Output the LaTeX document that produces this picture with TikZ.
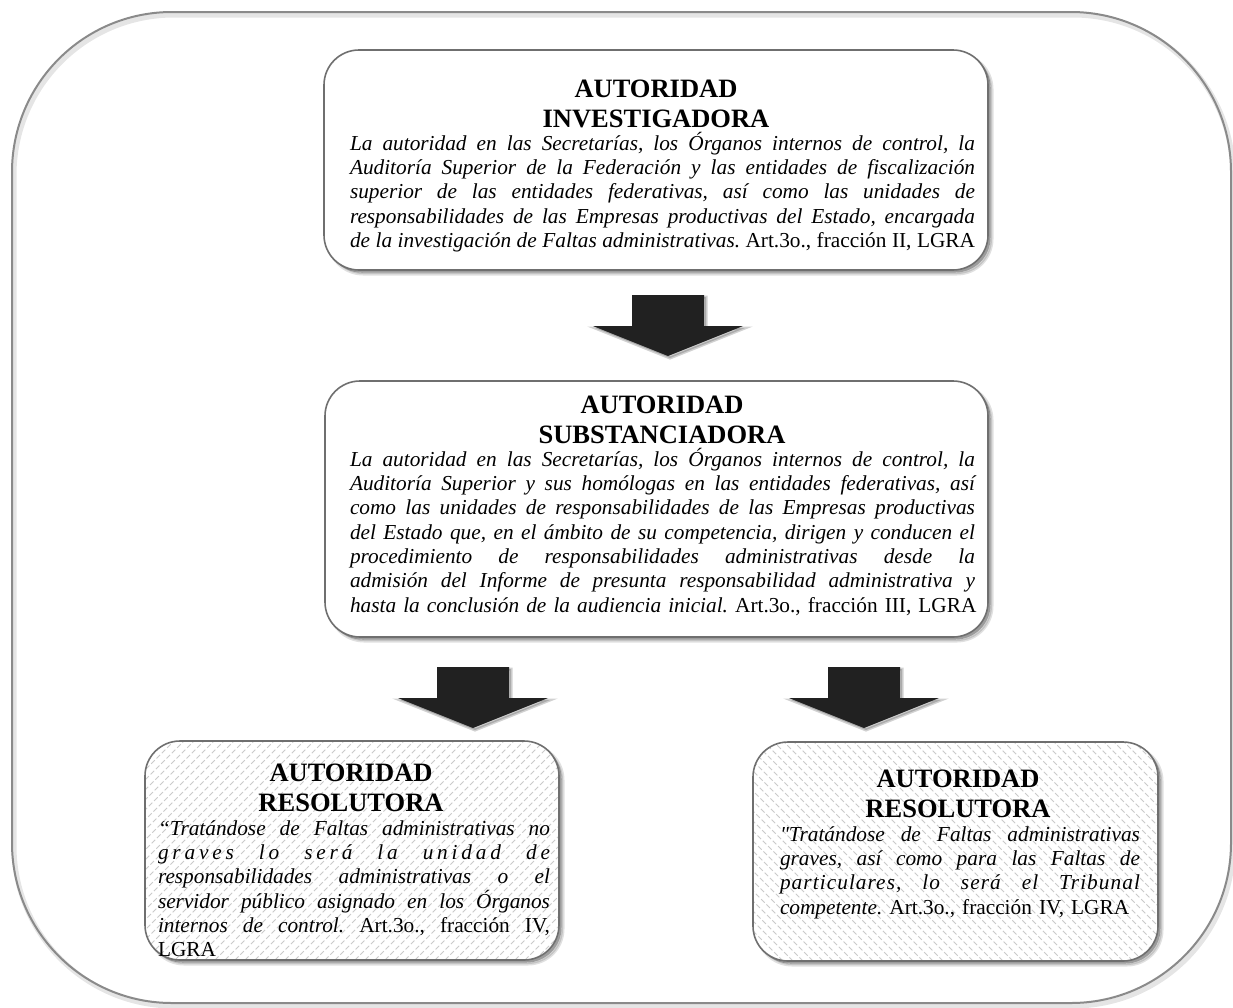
\documentclass[tikz,border=0pt]{standalone}
\usepackage{fontspec}
\setmainfont{Liberation Serif}
\usetikzlibrary{calc}
\setlength\parindent{0pt}
\frenchspacing
\definecolor{boxline}{HTML}{6F6F6F}
\definecolor{frameline}{HTML}{8A8A8A}
\definecolor{hatchc}{HTML}{CACACA}
\definecolor{arrowc}{HTML}{212121}
\newcommand\ttlfont{\fontsize{26.5}{30}\selectfont\bfseries}
\newcommand\bdyfont{\fontsize{21.3}{24.3}\selectfont\itshape}
\newcommand\jl[1]{\makebox[\hsize][s]{\spaceskip=0.25em plus 1fil minus 0.08em\relax #1}\\}
\newcommand\jlast[1]{\makebox[\hsize][s]{\spaceskip=0.25em plus 1fil minus 0.08em\relax #1}}
\newcommand\spaced[2]{{\addfontfeature{LetterSpace=#1}#2}}
\newcommand\up[1]{{\upshape #1}}
\newcommand\fstrut{\rule{0pt}{25pt}}
\newcommand\tstrut{\rule{0pt}{22pt}}
\newcommand\blockarr[1]{%
  \fill[blockarrow] ($(#1)+(-36,0)$) -- ($(#1)+(36,0)$) -- ($(#1)+(36,31)$) -- ($(#1)+(75,31)$)
    -- ($(#1)+(0,61)$) -- ($(#1)+(-75,31)$) -- ($(#1)+(-36,31)$) -- cycle;}
\tikzset{
  frame/.style={draw=frameline, line width=2pt, rounded corners=160pt,
    minimum width=1219pt, minimum height=991pt, inner sep=0pt,
    preaction={draw=black, opacity=0.10, line width=5pt, transform canvas={shift={(2pt,-3pt)}}}},
  box/.style={draw=boxline, line width=1.6pt, rounded corners=35pt, fill=white, inner sep=0pt,
    preaction={fill=black, draw=black, line width=3pt, opacity=0.12, transform canvas={shift={(4pt,-4pt)}}},
    preaction={fill=black, opacity=0.30, transform canvas={shift={(2.5pt,-2.5pt)}}}},
  hatchline/.style={draw=hatchc, line width=0.9pt, dash pattern=on 5pt off 2.5pt},
  hatchNE/.style={path picture={\foreach \k in {-260,-250,...,440}{
      \draw[hatchline] ($(path picture bounding box.south west)+(\k,0)$) -- ++(300,-300);}}},
  hatchNW/.style={path picture={\foreach \k in {0,10,...,720}{
      \draw[hatchline] ($(path picture bounding box.south west)+(\k,0)$) -- ++(-300,-300);}}},
  ttl/.style={anchor=north, inner sep=0pt, text width=#1, align=center, font=\ttlfont},
  body/.style={anchor=north, inner sep=0pt, text width=#1, font=\bdyfont},
  blockarrow/.style={fill=arrowc, draw=none,
    preaction={fill=black, draw=black, line width=3pt, opacity=0.18, transform canvas={shift={(2pt,-2pt)}}}},
}
\begin{document}
\begin{tikzpicture}[x=1pt,y=-1pt]
\fill[white] (0,0) rectangle (1233,1007);
\useasboundingbox (0,0) rectangle (1233,1007);

% outer frame
\node[frame] (frame) at (621.5,507.5) {};

% boxes
\node[box, minimum width=664pt, minimum height=220pt] (inv) at (656,160) {};
\node[box, minimum width=663pt, minimum height=256pt] (sub) at (656.5,509) {};
\node[box, hatchNE, minimum width=414pt, minimum height=219pt] (resL) at (352,850.5) {};
\node[box, hatchNW, minimum width=405pt, minimum height=219pt] (resR) at (955.5,851.5) {};

% arrows
\coordinate (a1) at (668,295);
\coordinate (a2) at (473,667);
\coordinate (a3) at (864,667);
\blockarr{a1}
\blockarr{a2}
\blockarr{a3}

% texts
\node[ttl=400pt] (invT) at (656,75) {\tstrut AUTORIDAD\\INVESTIGADORA};
\node[body=625pt] (invB) at (662.5,125) {\fstrut
\jl{La autoridad en las Secretarías, los Órganos internos de control, la}
\jl{Auditoría Superior de la Federación y las entidades de fiscalización}
\jl{superior de las entidades federativas, así como las unidades de}
\jl{responsabilidades de las Empresas productivas del Estado, encargada}
\jlast{de la investigación de Faltas administrativas. \up{Art.3o., fracción II, LGRA}}};

\node[ttl=400pt] (subT) at (662,391) {\tstrut AUTORIDAD\\SUBSTANCIADORA};
\node[body=625pt] (subB) at (662.5,441) {\fstrut
\jl{La autoridad en las Secretarías, los Órganos internos de control, la}
\jl{Auditoría Superior y sus homólogas en las entidades federativas, así}
\jl{como las unidades de responsabilidades de las Empresas productivas}
\jl{del Estado que, en el ámbito de su competencia, dirigen y conducen el}
\jl{procedimiento de responsabilidades administrativas desde la}
\jl{admisión del Informe de presunta responsabilidad administrativa y}
\mbox{hasta la conclusión de la audiencia inicial. \up{Art.3o., fracción III, LGRA}}};

\node[ttl=380pt] (resLT) at (351,759) {\tstrut AUTORIDAD\\RESOLUTORA};
\node[body=392pt] (resLB) at (354,810) {\fstrut
\jl{“Tratándose de Faltas administrativas no}
\jl{\spaced{18}{graves lo será la unidad de}}
\jl{responsabilidades administrativas o el}
\jl{servidor público asignado en los Órganos}
\jl{internos de control. \up{Art.3o., fracción IV,}}
\up{LGRA}};

\node[ttl=380pt] (resRT) at (958,765) {\tstrut AUTORIDAD\\RESOLUTORA};
\node[body=360pt] (resRB) at (960,816) {\fstrut
\jl{\textquotedbl Tratándose de Faltas administrativas}
\jl{graves, así como para las Faltas de}
\jl{\spaced{5}{particulares, lo será el Tribunal}}
\mbox{competente. \up{Art.3o., fracción IV, LGRA}}};
\end{tikzpicture}
\end{document}
